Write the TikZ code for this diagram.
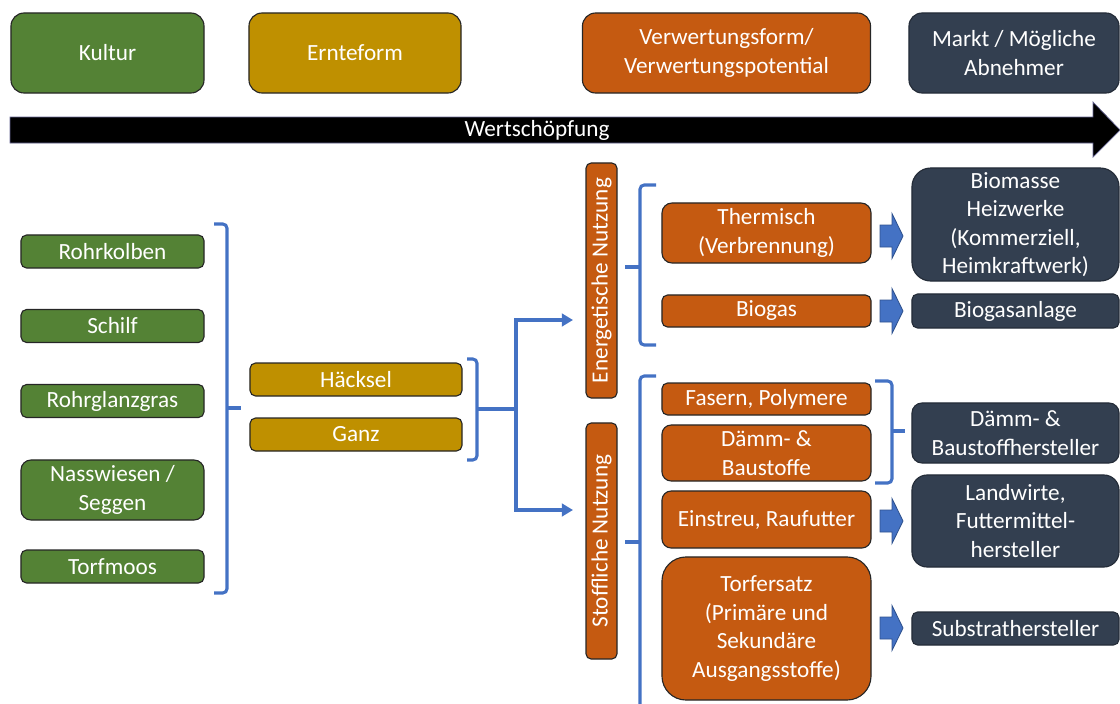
\documentclass[tikz,border=0pt]{standalone}
\usepackage{fontspec}
\setmainfont{Carlito}
\usetikzlibrary{arrows.meta,positioning}
\definecolor{kgreen}{HTML}{548235}
\definecolor{kgold}{HTML}{BF9000}
\definecolor{korange}{HTML}{C55A11}
\definecolor{kslate}{HTML}{333F50}
\definecolor{kblue}{HTML}{4472C4}
\definecolor{kbluedark}{HTML}{2F528F}

\begin{document}
\begin{tikzpicture}[x=0.025cm,y=-0.025cm,>={Triangle[length=8pt,width=9pt]},
  box/.style={draw=black!85,line width=0.8pt,text=white,align=center,inner sep=1.5pt,
    font=\fontsize{16.5}{20.2}\selectfont},
  gbox/.style={box,fill=kgreen},
  ybox/.style={box,fill=kgold},
  obox/.style={box,fill=korange},
  dbox/.style={box,fill=kslate,draw=kslate!70!black},
  brk/.style={kblue,line width=2.2pt,rounded corners=3pt},
  conn/.style={kblue,line width=2.2pt,->},
  blockpfeil/.pic={\filldraw[fill=kblue,draw=kbluedark,line width=0.6pt]
    (-11.5,-11) -- (0.5,-11) -- (0.5,-22.5) -- (11.5,0) -- (0.5,22.5) -- (0.5,11) -- (-11.5,11) -- cycle;}]
\useasboundingbox (0,0) rectangle (1120,704);

% header
\node[gbox,rounded corners=0.33cm,minimum width=4.825cm,minimum height=2cm] (kultur) at (107.5,53) {Kultur};
\node[ybox,rounded corners=0.33cm,minimum width=5.3cm,minimum height=2cm] (ernte) at (355,53) {Ernteform};
\node[obox,rounded corners=0.33cm,minimum width=7.2cm,minimum height=2cm] (verw) at (726.5,53) {Verwertungsform/\\Verwertungspotential};
\node[dbox,rounded corners=0.33cm,minimum width=5.25cm,minimum height=2cm] (markt) at (1014,53) {Markt / Mögliche\\Abnehmer};

% Wertschoepfung
\fill[black,draw=black!70!blue!60,line width=0.5pt] (10,117) -- (1093,117) -- (1093,102) -- (1120,130)
  -- (1093,157) -- (1093,143) -- (10,143) -- cycle;
\node[box,draw=none] (wert) at (537,130) {Wertschöpfung};

% Kultur
\node[gbox,rounded corners=0.14cm,minimum width=4.575cm,minimum height=0.825cm] (rohr) at (112.5,251.5) {Rohrkolben};
\node[gbox,rounded corners=0.14cm,minimum width=4.575cm,minimum height=0.825cm] (schilf) at (112.5,326) {Schilf};
\node[gbox,rounded corners=0.14cm,minimum width=4.575cm,minimum height=0.825cm] (glanz) at (112.5,401) {Rohrglanzgras};
\node[gbox,rounded corners=0.25cm,minimum width=4.575cm,minimum height=1.5cm] (nass) at (112.5,490) {Nasswiesen /\\Seggen};
\node[gbox,rounded corners=0.14cm,minimum width=4.575cm,minimum height=0.825cm] (torf) at (112.5,566.5) {Torfmoos};

% Ernteform
\node[ybox,rounded corners=0.14cm,minimum width=5.3cm,minimum height=0.825cm] (haeck) at (356,379.5) {Häcksel};
\node[ybox,rounded corners=0.14cm,minimum width=5.3cm,minimum height=0.825cm] (ganz) at (356,434.5) {Ganz};

% Nutzung
\node[obox,rotate=90,rounded corners=0.13cm,minimum width=5.875cm,minimum height=0.775cm,inner sep=0.5pt] (energ) at (601.5,280.5) {Energetische Nutzung};
\node[obox,rotate=90,rounded corners=0.13cm,minimum width=5.9cm,minimum height=0.775cm,inner sep=0.5pt] (stoff) at (601.5,541) {Stoffliche Nutzung};

% Verwertung
\node[obox,rounded corners=0.25cm,minimum width=5.225cm,minimum height=1.5cm] (therm) at (766.5,233) {Thermisch\\(Verbrennung)};
\node[obox,rounded corners=0.14cm,minimum width=5.225cm,minimum height=0.8cm] (biogas) at (766.5,311) {Biogas};
\node[obox,rounded corners=0.14cm,minimum width=5.225cm,minimum height=0.8cm] (fasern) at (766.5,399) {Fasern, Polymere};
\node[obox,rounded corners=0.23cm,minimum width=5.225cm,minimum height=1.4cm] (daemm) at (766.5,453) {Dämm- \&\\Baustoffe};
\node[obox,rounded corners=0.23cm,minimum width=5.225cm,minimum height=1.425cm] (einstreu) at (766.5,519.5) {Einstreu, Raufutter};
\node[obox,rounded corners=0.6cm,minimum width=5.225cm,minimum height=3.575cm] (torfers) at (766.5,628.5) {Torfersatz\\(Primäre und\\Sekundäre\\Ausgangsstoffe)};

% Abnehmer
\node[dbox,rounded corners=0.47cm,minimum width=5.175cm,minimum height=2.825cm] (biomasse) at (1015.5,224.5) {Biomasse\\Heizwerke\\(Kommerziell,\\Heimkraftwerk)};
\node[dbox,rounded corners=0.14cm,minimum width=5.175cm,minimum height=0.85cm] (biogasanl) at (1015.5,311) {Biogasanlage};
\node[dbox,rounded corners=0.25cm,minimum width=5.175cm,minimum height=1.5cm] (daemmh) at (1015.5,433) {Dämm- \&\\Baustoffhersteller};
\node[dbox,rounded corners=0.38cm,minimum width=5.175cm,minimum height=2.3cm] (landw) at (1015.5,521) {Landwirte,\\Futtermittel-\\hersteller};
\node[dbox,rounded corners=0.14cm,minimum width=5.175cm,minimum height=0.825cm] (substr) at (1015.5,628.5) {Substrathersteller};

% Blockpfeile
\pic (p1) at (891.5,236) {blockpfeil};
\pic (p2) at (891.5,311) {blockpfeil};
\pic (p3) at (891.5,521) {blockpfeil};
\pic (p4) at (891.5,628) {blockpfeil};

% Klammern
\draw[brk] (214,224) -- (227,224) -- (227,593) -- (214,593);
\draw[brk] (227,408) -- (241,408);
\draw[brk] (467,359) -- (477,359) -- (477,460) -- (467,460);
\coordinate (b2) at (477,409);
\coordinate (fork) at (516,409);
\coordinate (inE) at (573,320);
\coordinate (inS) at (573,510);
\draw[brk] (b2) -- (fork);
\draw[conn] (fork) |- (inE);
\draw[conn] (fork) |- (inS);
\draw[brk] (656,185) -- (640,185) -- (640,345) -- (656,345);
\draw[brk] (640,267) -- (625,267);
\draw[brk] (656,376) -- (640,376) -- (640,712);
\draw[brk] (640,542) -- (625,542);
\draw[brk] (875,381) -- (892,381) -- (892,483) -- (875,483);
\draw[brk] (892,431) -- (905,431);
\end{tikzpicture}
\end{document}
